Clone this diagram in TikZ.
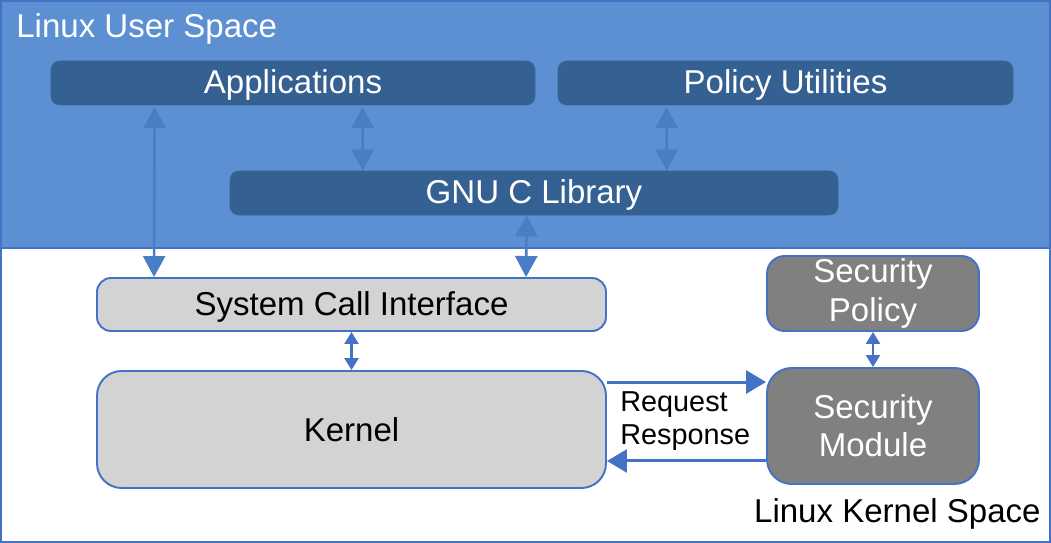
\documentclass[tikz,border=0pt]{standalone}
\usepackage{fontspec}
\setmainfont{Liberation Sans}
\usepackage{tikz}
\usetikzlibrary{arrows.meta, positioning, calc}
\definecolor{bandblue}{RGB}{92,144,210}
\definecolor{darkblue}{RGB}{53,96,146}
\definecolor{arrowblue}{RGB}{74,126,196}
\definecolor{lineblue}{RGB}{68,114,196}
\definecolor{lightgray}{RGB}{211,211,211}
\definecolor{midgray}{RGB}{128,128,128}
\newcommand{\bigtxt}{\fontsize{18.8}{22}\selectfont}
\newcommand{\smalltxt}{\fontsize{16.4}{19}\selectfont}

\begin{document}
\begin{tikzpicture}[font=\bigtxt,
  ubox/.style={fill=darkblue, draw=darkblue!90!bandblue, rounded corners=5pt, text=white, minimum height=0.88cm, text height=0.56cm, text depth=0.14cm, inner ysep=0},
  kbox/.style={fill=lightgray, draw=lineblue, line width=1.1pt, rounded corners=8pt, text=black},
  sbox/.style={fill=midgray, draw=lineblue, line width=1.1pt, rounded corners=10pt, text=white, align=center, inner sep=1pt},
  uarrow/.style={draw=arrowblue, line width=1.5pt, {Triangle[width=0.44cm,length=0.42cm]}-{Triangle[width=0.44cm,length=0.42cm]}},
  karrow/.style={draw=lineblue, line width=1.7pt, -{Triangle[width=0.46cm,length=0.4cm]}},
  sarrow/.style={draw=lineblue, line width=1.3pt, {Triangle[width=0.28cm,length=0.24cm]}-{Triangle[width=0.28cm,length=0.24cm]}}]
\useasboundingbox (0,0) rectangle (21.02,-10.86);
% user space band
\fill[bandblue] (0,0) rectangle (21.02,-4.96);
\draw[lineblue, line width=1pt] (0.02,-0.02) rectangle (21.0,-10.84);
\draw[lineblue, line width=1pt] (0,-4.96) -- (21.02,-4.96);
\node[anchor=base west, inner sep=0, text=white] (ulabel) at (0.32,-0.76) {Linux User Space};
\node[anchor=base east, inner sep=0] (klabel) at (20.82,-10.44) {Linux Kernel Space};

% user space boxes
\node[ubox, minimum width=9.68cm] (apps) at (5.86,-1.66) {Applications};
\node[ubox, minimum width=9.10cm] (polu) at (15.71,-1.66) {Policy Utilities};
\node[ubox, minimum width=12.16cm] (glibc) at (10.68,-3.86) {GNU C Library};

% kernel boxes
\node[kbox, minimum width=10.18cm, minimum height=1.06cm, text height=0.56cm, text depth=0.14cm] (sci) at (7.03,-6.09) {System Call Interface};
\node[kbox, rounded corners=14pt, minimum width=10.18cm, minimum height=2.34cm] (kern) at (7.03,-8.59) {Kernel};
\node[sbox, minimum width=4.24cm, minimum height=1.5cm, font=\fontsize{18.8}{22.5}\selectfont] (secpol) at (17.46,-5.87) {Security\\Policy};
\node[sbox, rounded corners=14pt, minimum width=4.24cm, minimum height=2.32cm, font=\fontsize{18.8}{21.5}\selectfont] (secmod) at (17.46,-8.52) {Security\\Module};

% connectors
\draw[uarrow] ([xshift=2.08cm,yshift=-1pt]apps.south west) -- ([xshift=1.16cm]sci.north west);
\draw[uarrow] ([xshift=6.24cm,yshift=-1pt]apps.south west) -- ([xshift=2.66cm]glibc.north west);
\draw[uarrow] ([xshift=2.18cm,yshift=-1pt]polu.south west) -- ([xshift=8.74cm]glibc.north west);
\draw[uarrow] ([xshift=5.94cm]glibc.south west) -- ([xshift=8.6cm]sci.north west);
\draw[sarrow] (sci.south) -- (kern.north);
\draw[sarrow] (secpol.south) -- (secmod.north);

\coordinate (req) at ([yshift=-0.24cm]kern.north east);
\coordinate (resp) at ([yshift=0.56cm]kern.south east);
\draw[karrow] (req) -- (req -| secmod.west);
\draw[karrow] (resp -| secmod.west) -- (resp);
\node[anchor=west, inner sep=0, font=\smalltxt] (reqtxt) at (12.4,-8.1) {Request};
\node[anchor=west, inner sep=0, font=\smalltxt] (resptxt) at (12.4,-8.76) {Response};
\end{tikzpicture}
\end{document}
